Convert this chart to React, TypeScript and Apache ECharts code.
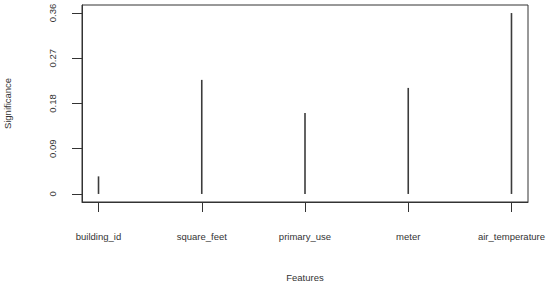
import React, { useEffect, useRef } from "react";
import * as echarts from "echarts";

const features = ["building_id", "square_feet", "primary_use", "meter", "air_temperature"];
const significance = [0.035, 0.227, 0.161, 0.211, 0.36];
const yTicks = [0, 0.09, 0.18, 0.27, 0.36];
const yTickLabels = ["0", "0.09", "0.18", "0.27", "0.36"];

const FONT = "Liberation Sans, Arial, sans-serif";
const TXT = "#333";

export default function App() {
  const ref = useRef<HTMLDivElement>(null);
  useEffect(() => {
    document.body.style.margin = "0";
    if (!ref.current) return;
    const chart = echarts.init(ref.current, undefined, { renderer: "svg" });
    const xPos = features.map((_, i) => i + 1);
    chart.setOption({
      animation: false,
      backgroundColor: "#fff",
      grid: {
        left: 82,
        right: 22,
        top: 5,
        bottom: 85,
        show: true,
        borderColor: "#333",
        borderWidth: 1,
        containLabel: false,
        outerBoundsMode: "none",
      },
      xAxis: {
        type: "value",
        min: 0.84,
        max: 5.16,
        name: "Features",
        nameLocation: "middle",
        nameGap: 70,
        nameTextStyle: { fontFamily: FONT, fontSize: 9.5, color: TXT },
        axisLine: { show: true, onZero: false, lineStyle: { color: "#333", width: 1 } },
        splitLine: { show: false },
        axisTick: {
          show: true,
          inside: false,
          length: 10,
          customValues: xPos,
          lineStyle: { color: "#333", width: 1 },
        },
        axisLabel: {
          customValues: xPos,
          margin: 29,
          fontFamily: FONT,
          fontSize: 9.5,
          color: TXT,
          formatter: (v: number) => features[Math.round(v) - 1] ?? "",
        },
      },
      yAxis: {
        type: "value",
        min: -0.016,
        max: 0.376,
        name: "Significance",
        nameLocation: "middle",
        nameGap: 70,
        nameTextStyle: { fontFamily: FONT, fontSize: 9.5, color: TXT },
        axisLine: { show: true, onZero: false, lineStyle: { color: "#333", width: 1 } },
        splitLine: { show: false },
        axisTick: {
          show: true,
          inside: false,
          length: 10,
          customValues: yTicks,
          lineStyle: { color: "#333", width: 1 },
        },
        axisLabel: {
          customValues: yTicks,
          rotate: 90,
          margin: 25,
          fontFamily: FONT,
          fontSize: 9.5,
          color: TXT,
          formatter: (v: number) => {
            const i = yTicks.findIndex((t) => Math.abs(t - v) < 1e-9);
            return i >= 0 ? yTickLabels[i] : "";
          },
        },
      },
      series: [
        {
          type: "custom",
          data: features.map((_, i) => [xPos[i], significance[i]]),
          renderItem: (params: any, api: any) => {
            const top = api.coord([api.value(0), api.value(1)]);
            const base = api.coord([api.value(0), 0]);
            return {
              type: "line",
              shape: { x1: top[0], y1: top[1], x2: base[0], y2: base[1] },
              style: { stroke: "#3c3c3c", lineWidth: 1.6 },
            };
          },
        },
      ],
    });
    return () => chart.dispose();
  }, []);
  return <div ref={ref} style={{ width: 550, height: 287 }} />;
}
